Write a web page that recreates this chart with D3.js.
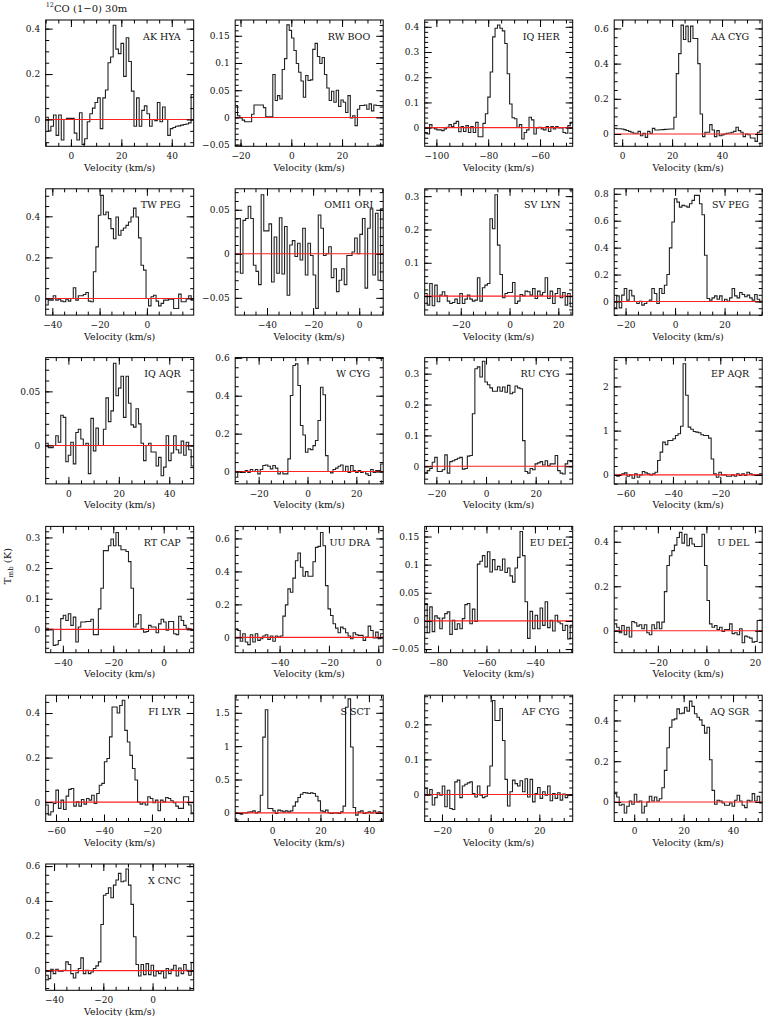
<!DOCTYPE html>
<html><head><meta charset="utf-8">
<script src="https://cdn.jsdelivr.net/npm/d3@7"></script>
<style>
body{margin:0;background:#fff}
svg{display:block}
text{font-family:"DejaVu Serif",serif;fill:#111}
</style>
</head><body>
<svg id="chart" width="763" height="1016"></svg>
<script>
// ---- panel metadata ----
const names = ["AK HYA","RW BOO","IQ HER","AA CYG","TW PEG","OMI1 ORI","SV LYN","SV PEG",
  "IQ AQR","W CYG","RU CYG","EP AQR","RT CAP","UU DRA","EU DEL","U DEL",
  "FI LYR","S SCT","AF CYG","AQ SGR","X CNC"];
const xDomains = [[-10,48.7],[-22.1,36.2],[-104.5,-47.4],[-3.2,56.1],
  [-42.8,19.8],[-53.8,10.4],[-34.8,25.9],[-24.6,35.2],
  [-9,49.7],[-29.6,31],[-24.7,34.9],[-64.8,-2.3],
  [-46.8,11.9],[-58,2],[-85.5,-24.4],[-38,23],
  [-64.3,-2.6],[-15.2,45.9],[-27.1,33.7],[-8.1,51.8],
  [-43.4,16.7]];
const yDomains = [[-0.118,0.438],[-0.053,0.179],[-0.074,0.427],[-0.07,0.648],
  [-0.081,0.534],[-0.0696,0.0738],[-0.057,0.322],[-0.101,0.837],
  [-0.0355,0.0812],[-0.065,0.601],[-0.057,0.352],[-0.204,2.65],
  [-0.076,0.336],[-0.093,0.673],[-0.0565,0.168],[-0.0985,0.469],
  [-0.087,0.48],[-0.13,1.764],[-0.077,0.283],[-0.096,0.524],
  [-0.113,0.612]];
const yMajorStep = [0.2,0.05,0.1,0.2, 0.2,0.05,0.1,0.2, 0.05,0.2,0.1,1, 0.1,0.2,0.05,0.2, 0.2,0.5,0.1,0.2, 0.2];
const yMinorStep = [0.05,0.01,0.02,0.05, 0.05,0.01,0.02,0.05, 0.01,0.05,0.02,0.2, 0.02,0.05,0.01,0.05, 0.05,0.1,0.02,0.05, 0.05];
const xMajorStep = 20, xMinorStep = 5;

// ---- spectra (T_mb in K, one value per channel, channels span the panel's velocity range) ----
const akHya = [0.01,-0.05,-0.03,0.02,-0.07,0.02,-0.09,0.0,0.005,0.005,0.005,-0.06,-0.09,0.03,-0.11,-0.085,-0.01,0.025,0.05,0.075,0.095,-0.04,0.095,0.13,0.25,0.275,0.415,0.31,0.29,0.335,0.19,0.36,0.255,0.125,-0.03,0.095,-0.03,0.04,0.06,0.025,-0.03,0.0,-0.005,0.075,-0.01,0.055,0.0,-0.07,-0.04,-0.035,-0.03,-0.028,-0.025,-0.022,-0.02,-0.015,0.11];
const rwBoo = [0.022,0.003,0.0,-0.005,-0.008,-0.008,-0.008,0.006,0.023,0.023,0.023,0.023,0.018,0.001,0.001,0.001,0.079,0.031,0.04,0.034,0.088,0.108,0.17,0.16,0.146,0.123,0.099,0.083,0.067,0.037,0.077,0.068,0.069,0.125,0.136,0.112,0.099,0.11,0.079,0.054,0.031,0.048,0.028,0.05,0.02,0.032,0.028,0.009,0.04,-0.001,0.003,-0.015,0.015,0.022,0.022,0.023,0.015,0.025,0.012,0.023,0.022,0.022,0.022];
const iqHer = [-0.019,-0.025,0.012,0.0,-0.005,-0.009,-0.009,-0.012,-0.005,0.001,0.012,0.004,0.017,0.025,-0.016,0.004,-0.015,0.008,-0.019,0.004,-0.019,0.021,-0.036,-0.036,0.017,0.055,0.121,0.221,0.36,0.394,0.407,0.394,0.384,0.334,0.214,0.094,0.039,0.035,0.001,0.012,-0.045,-0.019,-0.009,0.041,0.031,-0.025,-0.001,0.001,-0.005,-0.009,0.004,-0.015,0.004,-0.005,0.004,-0.001,-0.001,-0.019,-0.022,0.008,0.021];
const aaCyg = [0.032,0.03,0.03,0.028,0.025,0.02,0.015,0.01,0.004,0.004,0.015,-0.01,0.004,-0.019,0.015,0.004,0.032,0.023,0.023,0.024,0.025,0.026,0.027,0.028,0.028,0.095,0.343,0.457,0.619,0.537,0.613,0.524,0.613,0.543,0.543,0.4,0.114,-0.015,0.01,0.01,0.053,0.023,-0.015,0.019,-0.01,-0.005,0.0,0.004,0.006,0.01,0.015,0.038,0.019,0.01,-0.015,0.0,-0.004,-0.023,-0.023,-0.042,0.01,0.019];
const twPeg = [-0.032,-0.008,-0.008,0.013,-0.008,-0.003,-0.013,-0.016,-0.003,-0.013,0.0,0.052,-0.008,0.013,0.013,0.019,0.029,-0.013,-0.016,0.13,0.251,0.405,0.502,0.408,0.421,0.389,0.34,0.291,0.397,0.308,0.332,0.343,0.356,0.372,0.397,0.44,0.397,0.295,0.162,0.138,0.0,-0.036,0.008,0.016,-0.013,-0.036,-0.024,-0.008,-0.008,-0.003,-0.003,-0.049,-0.049,0.021,-0.016,-0.016,0.0,0.013,-0.008];
const omi1Ori = [0.04,0.04,-0.022,0.038,0.04,0.054,0.04,-0.013,-0.02,-0.035,0.067,0.026,0.026,0.034,-0.032,0.019,-0.022,0.041,-0.023,0.031,-0.047,0.01,0.015,-0.003,0.012,-0.007,0.029,-0.024,0.012,-0.002,-0.024,-0.062,0.044,0.029,-0.002,0.0,0.008,-0.027,-0.017,-0.043,-0.03,-0.017,-0.035,-0.002,-0.002,0.002,0.018,0.0,0.022,0.04,-0.039,0.029,0.051,-0.024,0.046,-0.03,0.051];
const svLyn = [0.008,-0.027,0.038,-0.029,0.033,-0.017,0.003,0.013,0.001,-0.015,-0.022,-0.019,-0.009,-0.022,0.008,-0.022,-0.009,0.003,-0.009,-0.015,-0.012,0.055,-0.015,0.025,0.033,0.038,0.232,0.202,0.304,0.153,0.065,-0.005,0.008,0.011,0.011,0.041,-0.022,-0.015,0.005,0.001,0.015,0.013,0.003,0.023,-0.007,0.015,0.003,0.011,0.055,-0.007,0.015,-0.022,0.008,0.023,-0.005,0.011,-0.027,0.008,-0.032];
const svPeg = [-0.047,0.042,-0.047,0.047,0.096,0.01,0.084,0.042,0.0,-0.015,0.002,-0.027,-0.015,0.0,0.01,0.096,0.059,-0.015,0.096,0.059,0.121,0.2,0.398,0.59,0.763,0.738,0.701,0.714,0.709,0.701,0.726,0.751,0.788,0.788,0.726,0.644,0.343,0.022,0.01,0.027,0.042,0.017,0.042,0.0,0.017,0.002,0.027,0.096,0.042,0.027,0.067,0.052,0.035,0.047,0.027,0.01,0.052,0.017,0.002];
const iqAqr = [0.002,-0.002,-0.002,0.0,0.009,0.003,0.028,0.026,-0.015,-0.009,0.003,-0.017,0.012,0.015,0.006,0.0,0.002,-0.026,0.025,-0.005,0.016,0.0,0.0,0.015,0.044,0.022,0.032,0.076,0.046,0.053,0.064,0.026,0.064,0.039,0.019,0.017,0.034,0.02,0.002,-0.014,0.0,0.002,-0.006,-0.006,-0.019,-0.011,-0.028,-0.02,0.009,-0.014,-0.007,0.009,-0.004,-0.007,0.004,-0.009,0.003,-0.004,-0.019];
const wCyg = [-0.03,0.0,-0.004,-0.004,0.005,-0.004,0.011,0.0,0.011,-0.012,0.011,0.032,0.035,0.028,0.014,0.032,0.018,-0.012,0.0,-0.012,-0.012,0.067,0.401,0.559,0.568,0.454,0.243,0.193,0.102,0.12,0.116,0.137,0.164,0.269,0.445,0.405,0.084,0.0,-0.007,0.011,0.018,0.028,0.035,0.0,0.028,-0.004,0.032,0.005,-0.004,0.005,-0.004,0.0,-0.012,-0.021,0.011,-0.004,0.005,0.005,0.04];
const ruCyg = [-0.022,-0.014,-0.007,0.013,0.029,-0.017,-0.017,-0.011,0.037,-0.022,0.015,0.018,0.022,0.026,0.029,-0.009,-0.007,0.033,0.035,0.17,0.316,0.322,0.289,0.34,0.273,0.264,0.254,0.243,0.243,0.257,0.243,0.257,0.24,0.262,0.235,0.24,0.26,0.254,0.251,0.083,-0.017,-0.022,-0.007,-0.011,0.008,0.011,0.015,0.004,0.018,0.002,0.008,0.008,0.035,-0.014,-0.022,-0.025,0.008,0.018,0.015];
const epAqr = [-0.015,-0.03,0.0,0.023,0.045,-0.03,0.0,-0.075,0.023,-0.053,0.0,0.075,0.045,0.023,0.0,0.023,0.06,0.325,0.513,0.74,0.68,0.777,0.777,0.815,0.89,0.928,1.1,2.51,1.8,1.08,1.03,0.98,0.966,0.951,0.906,0.89,0.89,0.83,0.36,0.023,-0.053,0.06,0.0,0.0,-0.03,-0.03,0.0,-0.03,0.023,-0.015,0.023,-0.015,0.06,0.023,0.0,-0.015,0.0,0.023];
const rtCap = [0.004,0.0,0.0,-0.052,-0.05,-0.036,0.035,0.046,0.029,0.051,0.013,0.04,-0.041,0.008,0.024,0.024,0.026,0.026,0.033,-0.017,-0.017,0.067,0.134,0.257,0.257,0.273,0.295,0.273,0.316,0.273,0.26,0.26,0.254,0.221,0.134,0.008,0.018,0.048,0.002,-0.009,-0.007,0.013,0.008,0.008,-0.011,0.018,0.033,0.024,-0.003,0.026,0.026,-0.014,-0.017,0.043,0.029,0.013,0.004,0.002,-0.003];
const uuDra = [0.052,0.042,-0.024,0.022,-0.028,-0.044,0.016,-0.028,0.022,-0.018,-0.008,0.008,0.016,-0.012,0.008,-0.024,0.008,0.002,0.008,0.129,0.197,0.294,0.274,0.359,0.465,0.512,0.425,0.371,0.399,0.371,0.371,0.459,0.546,0.552,0.636,0.556,0.314,0.173,0.133,0.083,0.056,0.028,0.062,0.052,0.028,0.008,-0.008,0.028,0.016,0.012,0.012,-0.018,0.002,0.068,0.042,-0.004,0.032,-0.008,0.022];
const euDel = [0.031,-0.021,0.025,-0.019,0.009,0.005,-0.014,0.005,0.013,0.016,-0.024,0.001,-0.015,-0.005,-0.014,0.004,0.029,0.031,-0.005,0.021,-0.001,0.101,0.106,0.116,0.096,0.123,0.087,0.109,0.091,0.097,0.09,0.11,0.086,0.094,0.08,0.069,0.094,0.113,0.159,0.116,0.034,-0.031,0.017,-0.014,0.01,-0.014,0.023,-0.008,0.034,-0.012,0.001,-0.018,0.01,-0.002,-0.005,-0.017,-0.008,-0.032,-0.008];
const uDel = [0.031,0.016,-0.009,0.024,-0.018,0.016,-0.028,0.042,0.036,0.021,0.027,0.009,0.027,-0.009,-0.018,0.027,0.009,0.039,0.009,0.039,0.176,0.293,0.337,0.36,0.385,0.419,0.442,0.394,0.434,0.382,0.415,0.39,0.379,0.379,0.379,0.434,0.293,0.136,0.031,0.016,0.024,0.006,0.016,-0.003,0.006,0.006,0.031,-0.013,-0.009,-0.018,0.009,-0.054,-0.024,-0.028,-0.033,-0.051,-0.048,0.046,0.046];
const fiLyr = [-0.013,-0.058,-0.043,-0.006,0.054,-0.028,0.009,-0.033,0.027,0.057,0.061,-0.018,0.001,-0.018,0.012,-0.009,0.016,0.009,0.031,-0.006,0.039,0.076,0.084,0.181,0.196,0.293,0.427,0.427,0.4,0.434,0.457,0.322,0.27,0.21,0.151,0.099,0.0,-0.009,-0.003,-0.013,0.024,0.016,-0.003,0.009,-0.039,0.009,0.001,0.021,0.016,0.006,-0.003,-0.018,-0.028,-0.028,0.024,0.024,-0.013,-0.048];
const sSct = [0.0,-0.01,-0.02,0.0,0.0,0.01,0.015,0.03,0.0,0.015,0.264,1.136,1.545,0.065,0.065,0.03,-0.01,0.04,0.03,0.015,0.03,0.015,0.03,0.1,0.164,0.229,0.279,0.304,0.299,0.289,0.299,0.289,0.249,0.179,0.03,0.015,0.04,0.0,-0.01,0.0,0.0,-0.01,0.015,0.1,1.584,1.709,0.987,0.08,-0.035,0.015,0.03,-0.01,0.0,0.015,0.0,0.03,0.0,0.015,-0.01];
const afCyg = [0.017,-0.002,0.014,-0.03,-0.009,0.005,-0.002,0.024,-0.035,0.012,-0.04,-0.043,0.036,0.041,-0.009,0.024,0.029,0.033,0.036,0.003,-0.007,0.024,-0.002,-0.009,-0.005,0.024,0.081,0.268,0.211,0.211,0.245,0.154,0.043,-0.033,0.008,0.041,0.031,0.024,0.039,0.008,0.045,-0.007,0.043,-0.021,0.003,0.02,-0.011,0.008,-0.002,0.024,-0.018,0.003,-0.011,0.005,-0.016,0.001,-0.009,-0.002,-0.002];
const aqSgr = [0.041,0.024,-0.016,-0.011,-0.054,-0.021,0.005,-0.011,0.038,0.0,0.005,-0.054,-0.021,0.0,0.028,0.005,0.024,0.005,0.016,0.07,0.155,0.266,0.367,0.403,0.408,0.457,0.433,0.436,0.465,0.446,0.495,0.469,0.433,0.416,0.403,0.376,0.338,0.367,0.207,0.057,-0.011,0.008,0.005,-0.005,-0.016,-0.016,-0.005,-0.021,0.008,0.033,0.005,-0.016,-0.028,0.008,0.005,0.041,0.005,0.028,-0.005];
const xCnc = [-0.027,-0.046,0.008,-0.017,0.008,-0.004,-0.004,0.002,0.05,0.035,-0.017,-0.042,-0.012,0.012,0.073,-0.017,0.002,-0.017,-0.008,0.012,0.027,0.05,0.265,0.433,0.443,0.476,0.418,0.491,0.52,0.558,0.51,0.514,0.583,0.491,0.38,0.194,0.035,-0.031,0.035,-0.023,0.04,-0.023,0.031,-0.031,-0.004,-0.017,-0.004,-0.042,0.012,-0.017,0.008,0.031,-0.031,0.015,-0.017,0.035,0.002,-0.027,0.046];

const spectra = [akHya,rwBoo,iqHer,aaCyg,twPeg,omi1Ori,svLyn,svPeg,iqAqr,wCyg,ruCyg,epAqr,
  rtCap,uuDra,euDel,uDel,fiLyr,sSct,afCyg,aqSgr,xCnc];

// ---- layout / style ----
const colX0 = 45.7, colStep = 189.5, rowY0 = 20, rowStep = 168.8;
const W = 148, H = 126.3;
const labelPad = [13,13,13,13, 13,10,12,13, 13,13,13,13, 13,13,4,13, 13,13,13,13, 13];
const majLen = 7, minLen = 3.5;
const tickFont = 9, titleFont = 9.5;

const svg = d3.select("#chart");
const fmt = v => Math.abs(v) < 1e-9 ? "0" : d3.format("~g")(v);
function ticksFor(dom, step) {
  const out = [];
  const k0 = Math.ceil(dom[0] / step - 1e-9), k1 = Math.floor(dom[1] / step + 1e-9);
  for (let k = k0; k <= k1; k++) out.push(+(k * step).toFixed(6));
  return out;
}
function styleAxis(g) {
  g.select(".domain").remove();
  g.selectAll(".tick line").attr("stroke", "#000").attr("stroke-width", 1);
  g.attr("font-family", "DejaVu Serif").attr("font-size", tickFont);
  g.selectAll(".tick text").attr("fill", "#111");
}

spectra.forEach((vals, i) => {
  const c = i % 4, r = Math.floor(i / 4);
  const x0 = colX0 + c * colStep, y0 = rowY0 + r * rowStep;
  const g = svg.append("g").attr("transform", `translate(${x0},${y0})`);
  const xd = xDomains[i], yd = yDomains[i];
  const xs = d3.scaleLinear().domain(xd).range([0, W]);
  const ys = d3.scaleLinear().domain(yd).range([H, 0]);

  const clipId = "clip" + i;
  g.append("clipPath").attr("id", clipId).append("rect").attr("width", W).attr("height", H);

  // channel edges across the velocity range
  const dv = (xd[1] - xd[0]) / vals.length;
  const pts = vals.map((v, j) => [xd[0] + j * dv, v]);
  pts.push([xd[1], vals[vals.length - 1]]);
  const line = d3.line().x(d => xs(d[0])).y(d => ys(d[1])).curve(d3.curveStepAfter);
  g.append("path").attr("clip-path", `url(#${clipId})`)
    .attr("d", line(pts)).attr("fill", "none").attr("stroke", "#222").attr("stroke-width", 1.1);

  // zero baseline
  g.append("line").attr("x1", 0).attr("x2", W).attr("y1", ys(0)).attr("y2", ys(0))
    .attr("stroke", "#ff2020").attr("stroke-width", 1.1);

  // minor ticks
  const xMin = ticksFor(xd, xMinorStep), yMin = ticksFor(yd, yMinorStep[i]);
  g.append("g").attr("transform", `translate(0,${H})`)
    .call(d3.axisBottom(xs).tickValues(xMin).tickSize(-minLen).tickFormat("")).call(styleAxis);
  g.append("g").call(d3.axisTop(xs).tickValues(xMin).tickSize(-minLen).tickFormat("")).call(styleAxis);
  g.append("g").call(d3.axisLeft(ys).tickValues(yMin).tickSize(-minLen).tickFormat("")).call(styleAxis);
  g.append("g").attr("transform", `translate(${W},0)`)
    .call(d3.axisRight(ys).tickValues(yMin).tickSize(-minLen).tickFormat("")).call(styleAxis);

  // major ticks with labels
  const xMaj = ticksFor(xd, xMajorStep), yMaj = ticksFor(yd, yMajorStep[i]);
  g.append("g").attr("transform", `translate(0,${H})`)
    .call(d3.axisBottom(xs).tickValues(xMaj).tickSize(-majLen).tickPadding(6.5).tickFormat(fmt)).call(styleAxis);
  g.append("g").call(d3.axisTop(xs).tickValues(xMaj).tickSize(-majLen).tickFormat("")).call(styleAxis);
  g.append("g").call(d3.axisLeft(ys).tickValues(yMaj).tickSize(-majLen).tickPadding(5.5).tickFormat(fmt)).call(styleAxis);
  g.append("g").attr("transform", `translate(${W},0)`)
    .call(d3.axisRight(ys).tickValues(yMaj).tickSize(-majLen).tickFormat("")).call(styleAxis);

  // frame
  g.append("rect").attr("width", W).attr("height", H)
    .attr("fill", "none").attr("stroke", "#000").attr("stroke-width", 1);

  // star name
  g.append("text").attr("x", W - labelPad[i]).attr("y", 19.5)
    .attr("text-anchor", "end").attr("font-size", 9.5).text(names[i]);

  // x axis title
  g.append("text").attr("x", W / 2).attr("y", H + 24.6)
    .attr("text-anchor", "middle").attr("font-size", titleFont).text("Velocity (km/s)");
});

// figure title
const title = svg.append("text").attr("x", colX0).attr("y", 11.5).attr("font-size", 10);
title.append("tspan").attr("font-size", 6.5).attr("dy", -5).text("12");
title.append("tspan").attr("dy", 5).text("CO (1−0) 30m");

// y axis title
const yt = svg.append("text").attr("transform", "translate(10.5,566) rotate(-90)")
  .attr("text-anchor", "middle").attr("font-size", 10);
yt.append("tspan").text("T");
yt.append("tspan").attr("font-size", 7).attr("dy", 2.5).text("mb");
yt.append("tspan").attr("dy", -2.5).text(" (K)");
</script>
</body></html>
